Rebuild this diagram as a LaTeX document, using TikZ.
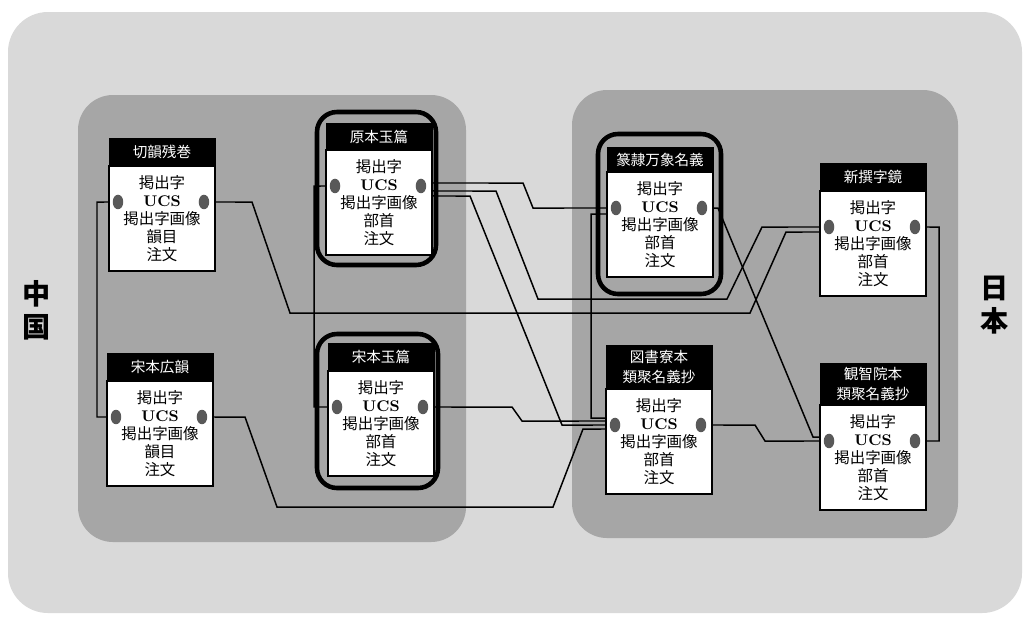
\documentclass[tikz,border=0pt]{standalone}
\usepackage{fontspec}
\newfontfamily\jp{Noto Sans CJK JP}
\usepackage{xcolor}
\usepackage{tikz}
\usetikzlibrary{shapes.geometric}
\definecolor{outergray}{HTML}{D9D9D9}
\definecolor{groupgray}{HTML}{A6A6A6}
\definecolor{dotgray}{HTML}{595959}
\pgfdeclarelayer{back}
\pgfdeclarelayer{wires}
\pgfsetlayers{back,wires,main}

\begin{document}
\begin{tikzpicture}[x=0.02cm,y=-0.02cm,
hdr/.style={fill=black,draw=black,text=white,anchor=north west,outer sep=0pt,inner sep=0pt,
  minimum width=2.12cm,align=center,font=\jp\fontsize{8.3}{11.4}\selectfont},
card/.style={fill=white,draw=black,line width=0.8pt,anchor=north,outer sep=0pt,inner sep=0pt,
  minimum width=2.12cm,minimum height=2.1cm,align=center,font=\jp\fontsize{8.8}{10.2}\selectfont},
dot/.style={ellipse,fill=dotgray,minimum width=0.21cm,minimum height=0.29cm,inner sep=0pt},
link/.style={line width=0.85pt},
frame/.style={line width=2.6pt,rounded corners=0.4cm},
side/.style={align=center,font=\jp\bfseries\fontsize{16}{18.7}\selectfont}]
\useasboundingbox (0,0) rectangle (1026,616);

\begin{pgfonlayer}{back}
\fill[white] (0,0) rectangle (1026,616);
\fill[outergray,rounded corners=0.8cm] (8,12) rectangle (1022,613);
\fill[groupgray,rounded corners=0.7cm] (78,95) rectangle (466,542);
\fill[groupgray,rounded corners=0.7cm] (572,90) rectangle (958,538);
\end{pgfonlayer}

% China / Japan
\node[side] (cn) at (37,310) {中\\国};
\node[side] (jp) at (995,305) {日\\本};

% thick frames
\draw[frame] (317,112) rectangle (436,265);
\draw[frame] (317,334) rectangle (438,488);
\draw[frame] (598,134) rectangle (721,294);

% cards
\foreach \id/\x/\y/\hd/\hh/\rb in {qy/109/138/切韻残巻/0.56/韻目,
  gy/326/123/原本玉篇/0.54/部首, sy/328/343/宋本玉篇/0.56/部首,
  tb/607/147/篆隷万象名義/0.5/部首, sj/820/163/新撰字鏡/0.56/部首,
  sk/107/353/宋本広韻/0.56/韻目, zs/606/345/{図書寮本\\類聚名義抄}/0.88/部首,
  kc/820/363/{観智院本\\類聚名義抄}/0.84/部首}{
\node[hdr,minimum height=\hh cm] (\id H) at (\x,\y) {\hd};
\node[card] (\id B) at (\id H.south) {掲出字\\{\rmfamily\bfseries UCS}\\掲出字画像\\\rb\\注文};
\node[dot] (\id L) at ([xshift=0.18cm,yshift=-0.72cm]\id B.north west) {};
\node[dot] (\id R) at ([xshift=-0.22cm,yshift=-0.72cm]\id B.north east) {};
}

% connections
\begin{pgfonlayer}{wires}
\draw[link] (qyL) -- (97,202) |- (skL);
\draw[link] (qyR) -- (252,202) -- (290,313) -- (750,313) -- (786,232) -- ([yshift=-0.1cm]sjL.center);
\draw[link] ([yshift=0.06cm]gyR.center) -- (523,183) -- (533,208) -- (tbL);
\draw[link] ([yshift=-0.1cm]gyR.center) -- (496,191) -- (538,299) -- (727,299) -- (762,227) -- (sjL);
\draw[link] ([yshift=-0.2cm]gyR.center) -- (470,196) -- (562,425) -- (zsL);
\draw[link] (gyL) -- (314,186) |- (syL);
\draw[link] (syR) -- (512,407) -- (522,421) -- ([yshift=0.08cm]zsL.center);
\draw[link] (skR) -- (245,417) -- (277,507) -- (553,507) -- (583,429) -- ([yshift=-0.08cm]zsL.center);
\draw[link] ([yshift=-0.12cm]tbL.center) -- (591,214) -- (591,418) -- ([yshift=0.14cm]zsL.center);
\draw[link] (tbR) -- (718,208) -- (813,437) -- ([yshift=0.08cm]kcL.center);
\draw[link] (zsR) -- (755,425) -- (765,441) -- (kcL);
\draw[link] (sjR) -- (939,227) |- (kcR);
\end{pgfonlayer}
\end{tikzpicture}
\end{document}
